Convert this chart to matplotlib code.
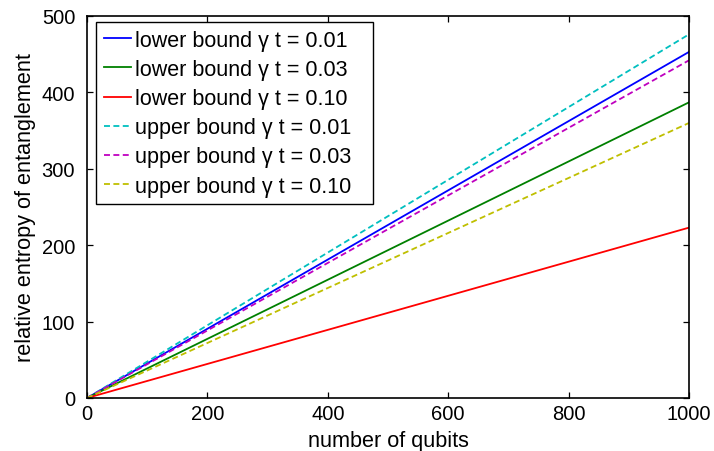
import matplotlib
matplotlib.use("Agg")
import matplotlib.pyplot as plt

plt.rcParams['font.family'] = ['Liberation Sans', 'DejaVu Sans']

n_qubits = [0, 1000]
lower_001 = [0, 453]
lower_003 = [0, 387]
lower_010 = [0, 223]
upper_001 = [0, 476]
upper_003 = [0, 442]
upper_010 = [0, 360]

labels = ["lower bound \u03b3 t = 0.01", "lower bound \u03b3 t = 0.03", "lower bound \u03b3 t = 0.10",
          "upper bound \u03b3 t = 0.01", "upper bound \u03b3 t = 0.03", "upper bound \u03b3 t = 0.10"]
xticks = [0, 200, 400, 600, 800, 1000]
yticks = [0, 100, 200, 300, 400, 500]

W, H = 714, 452
L, R, T, B = 87, 689, 17, 399
fig = plt.figure(figsize=(W/100, H/100), dpi=100)
ax = fig.add_axes([L/W, 1-B/H, (R-L)/W, (B-T)/H])

lw = 1.3
dash = (3.3, 1.9)
ax.plot(n_qubits, lower_001, color=(0, 0, 1), lw=lw, label=labels[0])
ax.plot(n_qubits, lower_003, color=(0, 0.5, 0), lw=lw, label=labels[1])
ax.plot(n_qubits, lower_010, color=(1, 0, 0), lw=lw, label=labels[2])
ax.plot(n_qubits, upper_001, color=(0, 0.75, 0.75), lw=lw, dashes=dash, label=labels[3])
ax.plot(n_qubits, upper_003, color=(0.75, 0, 0.75), lw=lw, dashes=dash, label=labels[4])
ax.plot(n_qubits, upper_010, color=(0.75, 0.75, 0), lw=lw, dashes=dash, label=labels[5])

ax.set_xlim(0, 1000)
ax.set_ylim(0, 500)
ax.set_xticks(xticks)
ax.set_yticks(yticks)
ax.tick_params(direction='in', top=True, right=True, labelsize=14.5, length=4.5, width=0.9)
ax.tick_params(axis='x', pad=4.5)
ax.tick_params(axis='y', pad=8.5)
for s in ax.spines.values():
    s.set_linewidth(1.2)
ax.set_xlabel("number of qubits", fontsize=15.6, labelpad=5)
ax.set_ylabel("relative entropy of entanglement", fontsize=15.6, labelpad=4)

pw, ph = R - L, B - T
x0 = (96 - L) / pw
wleg = (373 - 96) / pw
ytop = 1 - (23 - T) / ph
leg = ax.legend(loc='upper left', bbox_to_anchor=(x0, ytop, wleg, 0), mode='expand',
                fontsize=15.5, frameon=True, fancybox=False, edgecolor='black', framealpha=1,
                handlelength=1.26, handletextpad=0.19, labelspacing=0.38,
                borderpad=0.36, borderaxespad=0)
leg.get_frame().set_linewidth(1.0)

fig.savefig("out.png", dpi=100)
